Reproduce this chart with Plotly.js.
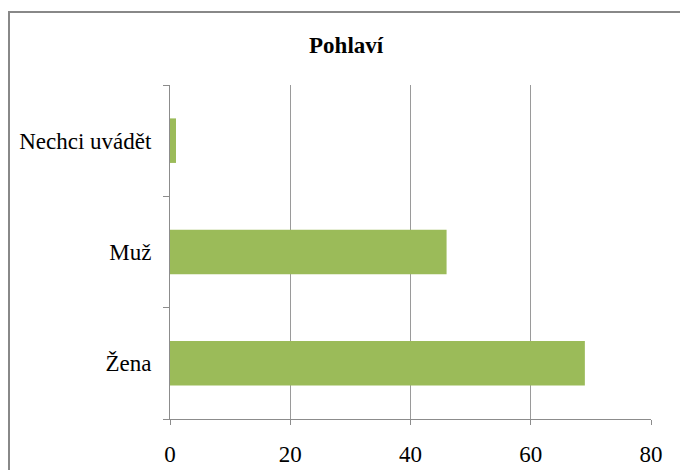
<!DOCTYPE html>
<html>
<head>
<meta charset="utf-8">
<script src="https://cdn.plot.ly/plotly-3.0.1.min.js"></script>
<style>
  html, body { margin: 0; padding: 0; background: #fff; }
  #wrap { position: relative; width: 680px; height: 470px; overflow: hidden; }
  #chart { width: 680px; height: 470px; }
  #frame { position: absolute; left: 8px; top: 11px; width: 720px; height: 520px;
           border-left: 2px solid #888; border-top: 2px solid #888; pointer-events: none; }
</style>
</head>
<body>
<div id="wrap">
  <div id="chart"></div>
  <div id="frame"></div>
</div>
<script>
const chartTitle = 'Pohlaví';
const categories = ['Žena', 'Muž', 'Nechci uvádět'];
const values = [69, 46, 1];
const xTicks = [0, 20, 40, 60, 80];

const serif = '"Liberation Serif", "Times New Roman", serif';

Plotly.newPlot('chart', [{
  type: 'bar',
  orientation: 'h',
  y: categories,
  x: values,
  marker: { color: '#9BBB59' },
  hoverinfo: 'x+y'
}], {
  width: 680,
  height: 470,
  margin: { l: 170, r: 29, t: 85, b: 51 },
  paper_bgcolor: '#fff',
  plot_bgcolor: '#fff',
  bargap: 0.6,
  showlegend: false,
  title: {
    text: '<b>' + chartTitle + '</b>',
    font: { family: serif, size: 23, color: '#000' },
    xref: 'container', x: 0.509, xanchor: 'center',
    yref: 'container', y: 0.904, yanchor: 'middle'
  },
  xaxis: {
    range: [0, 80],
    tickvals: xTicks,
    ticktext: xTicks.map(String),
    showgrid: true,
    gridcolor: '#9a9a9a',
    gridwidth: 1,
    zeroline: false,
    showline: true,
    linecolor: '#8c8c8c',
    linewidth: 1,
    ticks: 'outside',
    ticklen: 5,
    tickcolor: '#8c8c8c',
    ticklabelstandoff: 9,
    tickfont: { family: serif, size: 23, color: '#000' },
    fixedrange: true
  },
  yaxis: {
    type: 'category',
    categoryorder: 'array',
    categoryarray: categories,
    showgrid: false,
    zeroline: false,
    showline: true,
    linecolor: '#8c8c8c',
    linewidth: 1,
    ticks: 'outside',
    tickson: 'boundaries',
    ticklen: 6,
    tickcolor: '#8c8c8c',
    ticklabelstandoff: 13,
    tickfont: { family: serif, size: 23, color: '#000' },
    fixedrange: true
  }
}, { displayModeBar: false, staticPlot: true });
</script>
</body>
</html>
